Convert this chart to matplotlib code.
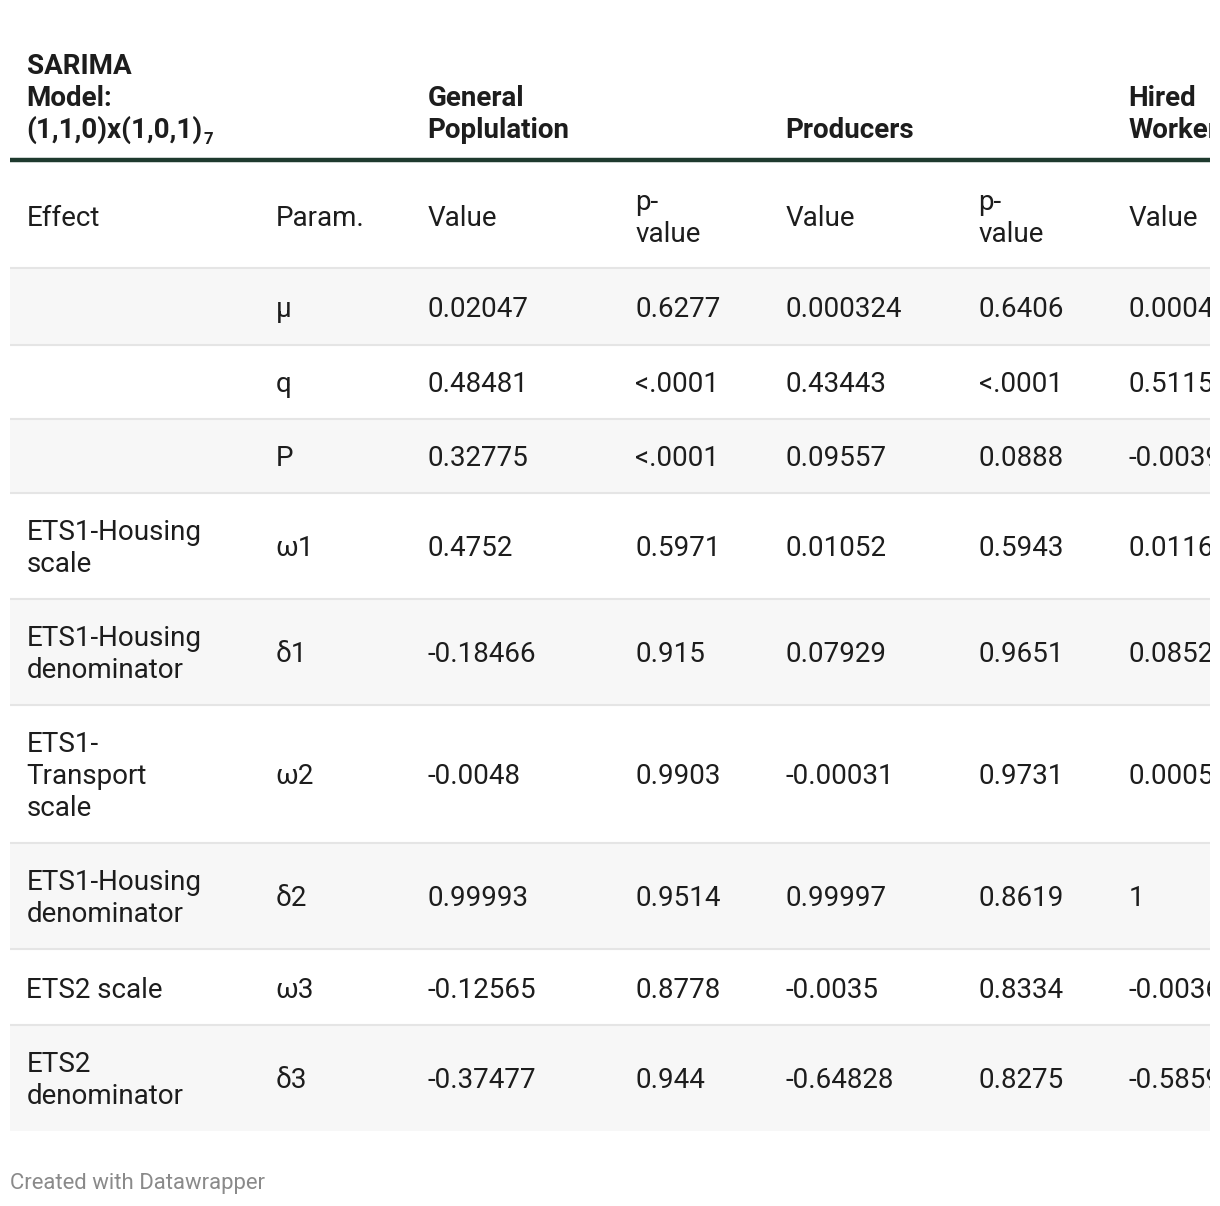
import matplotlib
matplotlib.use("Agg")
import matplotlib.pyplot as plt

W, H = 1220, 1206

# ---- data ----
group_headers = ["SARIMA\nModel:\n(1,1,0)x(1,0,1)", "", "General\nPoplulation", "", "Producers", "", "Hired\nWorkers"]
group_sub = "7"
col_headers = ["Effect", "Param.", "Value", "p-\nvalue", "Value", "p-\nvalue", "Value"]
effects = ["", "", "", "ETS1-Housing\nscale", "ETS1-Housing\ndenominator", "ETS1-\nTransport\nscale",
           "ETS1-Housing\ndenominator", "ETS2 scale", "ETS2\ndenominator"]
params = ["μ", "q", "P", "ω1", "δ1", "ω2", "δ2", "ω3", "δ3"]
gen_value = ["0.02047", "0.48481", "0.32775", "0.4752", "-0.18466", "-0.0048", "0.99993", "-0.12565", "-0.37477"]
gen_p = ["0.6277", "<.0001", "<.0001", "0.5971", "0.915", "0.9903", "0.9514", "0.8778", "0.944"]
prod_value = ["0.000324", "0.43443", "0.09557", "0.01052", "0.07929", "-0.00031", "0.99997", "-0.0035", "-0.64828"]
prod_p = ["0.6406", "<.0001", "0.0888", "0.5943", "0.9651", "0.9731", "0.8619", "0.8334", "0.8275"]
hired_value = ["0.00040", "0.51150", "-0.00390", "0.01160", "0.08520", "0.00050", "1", "-0.00360", "-0.58590"]
footer = "Created with Datawrapper"

# ---- layout (pixels) ----
col_x = [27, 276, 428, 636, 786, 979, 1129]
left, right = 10, 1210
row_edges = [268, 345, 419, 493, 599, 705, 843, 949, 1025, 1131]
header_line_y = 160
fs = 20.0        # pt (~28 px)
line_h = 32      # px
cap_off = 10.5   # px from visual center to baseline
txt_color = "#1d1d1d"

fig = plt.figure(figsize=(W / 100, H / 100), dpi=100)
ax = fig.add_axes([0, 0, right / W, 1])
ax.set_xlim(0, right)
ax.set_ylim(H, 0)
ax.axis("off")

fam = ["Roboto", "DejaVu Sans"]


def put_lines(x, center_y, text, weight="normal"):
    lines = text.split("\n")
    n = len(lines)
    objs = []
    for i, ln in enumerate(lines):
        y = center_y + cap_off + (i - (n - 1) / 2) * line_h
        t = ax.text(x - 0.5, y, ln, fontsize=fs, family=fam, fontweight=weight, color=txt_color,
                    va="baseline", ha="left", clip_on=True)
        objs.append(t)
    return objs


def put_bottom(x, base_y, text, weight="bold"):
    lines = text.split("\n")
    n = len(lines)
    objs = []
    for i, ln in enumerate(lines):
        y = base_y - (n - 1 - i) * line_h
        t = ax.text(x - 0.5, y, ln, fontsize=fs, family=fam, fontweight=weight, color=txt_color,
                    va="baseline", ha="left", clip_on=True)
        objs.append(t)
    return objs


# row backgrounds and separators
for i in range(len(params)):
    top, bot = row_edges[i], row_edges[i + 1]
    if i % 2 == 0:
        ax.fill_between([left, right], [top, top], [bot, bot], color="#f7f7f7", lw=0, zorder=0)
for i, y in enumerate(row_edges[:-1]):
    ax.plot([left, right], [y, y], color="#e5e5e5", lw=1.5, zorder=1, solid_capstyle="butt")

# thick header rule
ax.plot([left, right], [header_line_y, header_line_y], color="#1e3a2e", lw=3.2, zorder=2,
        solid_capstyle="butt")

# group headers
head_base = 137.5
first_objs = None
for x, txt in zip(col_x, group_headers):
    if txt:
        o = put_bottom(x, head_base, txt)
        if first_objs is None:
            first_objs = o

# subscript after SARIMA last line
fig.canvas.draw()
r = fig.canvas.get_renderer()
bb = first_objs[-1].get_window_extent(renderer=r)
x_end = ax.transData.inverted().transform((bb.x1, 0))[0]
ax.text(x_end + 1, head_base + 7, group_sub, fontsize=fs * 0.6, family=fam, fontweight="bold",
        color=txt_color, va="baseline", ha="left")

# column headers
for x, txt in zip(col_x, col_headers):
    put_lines(x, 216, txt)

# body
columns = [effects, params, gen_value, gen_p, prod_value, prod_p, hired_value]
for i in range(len(params)):
    cy = (row_edges[i] + row_edges[i + 1]) / 2
    for x, col in zip(col_x, columns):
        if col[i]:
            put_lines(x, cy, col[i])

ax.text(10, 1189, footer, fontsize=15.9, family=fam, color="#8a8a8a", va="baseline", ha="left")

fig.savefig("out.png", dpi=100)
